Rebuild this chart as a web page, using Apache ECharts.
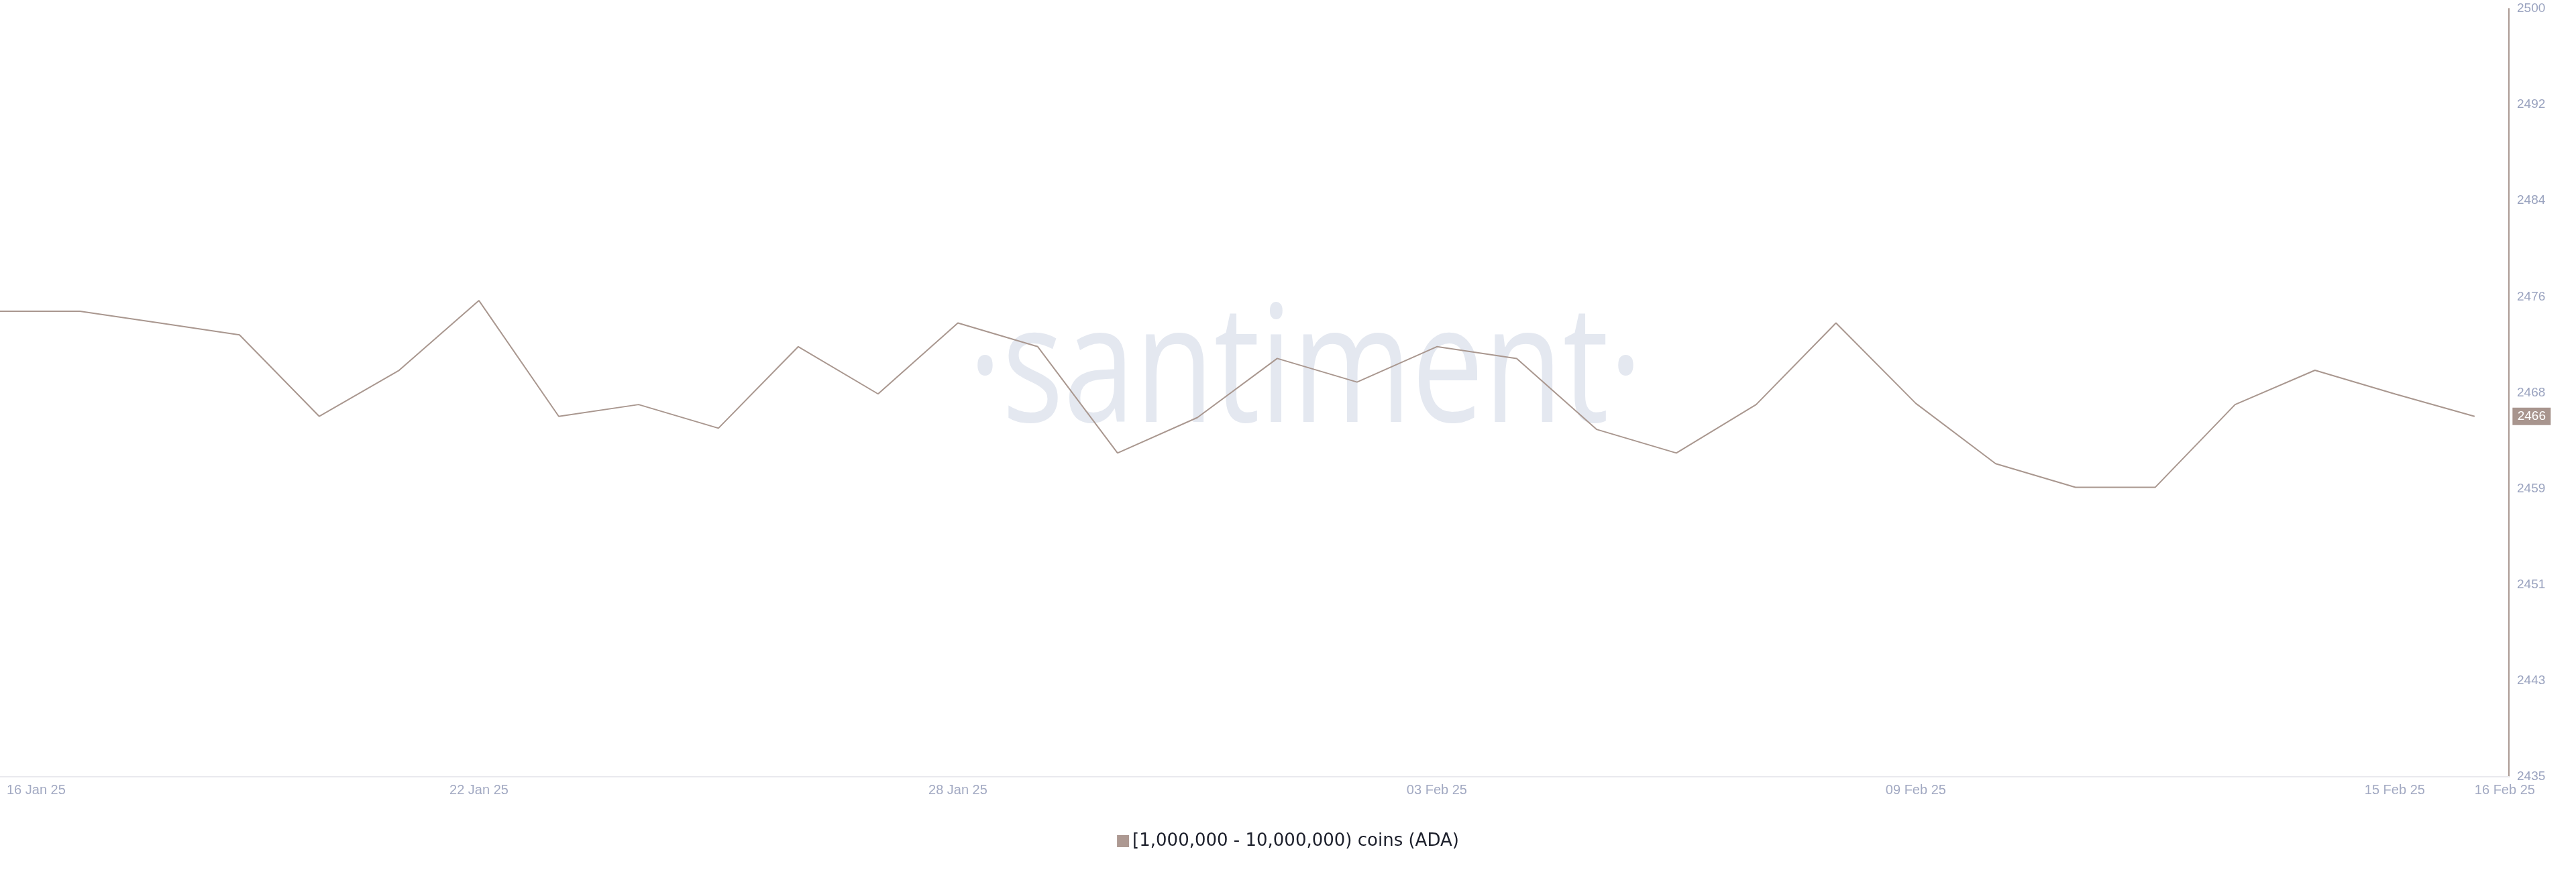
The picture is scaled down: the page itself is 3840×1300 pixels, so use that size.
<!DOCTYPE html>
<html>
<head>
<meta charset="utf-8">
<style>
  html, body { margin: 0; padding: 0; background: #ffffff; }
  #chart { width: 3840px; height: 1300px; }
</style>
<script src="https://cdn.jsdelivr.net/npm/echarts@6/dist/echarts.min.js"></script>
</head>
<body>
<div id="chart"></div>
<script>
// ---- data ----
const dates = [
  '16 Jan 25','17 Jan 25','18 Jan 25','19 Jan 25','20 Jan 25','21 Jan 25','22 Jan 25','23 Jan 25',
  '24 Jan 25','25 Jan 25','26 Jan 25','27 Jan 25','28 Jan 25','29 Jan 25','30 Jan 25','31 Jan 25',
  '01 Feb 25','02 Feb 25','03 Feb 25','04 Feb 25','05 Feb 25','06 Feb 25','07 Feb 25','08 Feb 25',
  '09 Feb 25','10 Feb 25','11 Feb 25','12 Feb 25','13 Feb 25','14 Feb 25','15 Feb 25','16 Feb 25'
];
const holders = [
  2474.4, 2474.4, 2473.4, 2472.4, 2465.5, 2469.4, 2475.3, 2465.5,
  2466.5, 2464.5, 2471.4, 2467.4, 2473.4, 2471.4, 2462.4, 2465.4,
  2470.4, 2468.4, 2471.4, 2470.4, 2464.4, 2462.4, 2466.5, 2473.4,
  2466.6, 2461.5, 2459.5, 2459.5, 2466.5, 2469.4, 2467.4, 2465.5
];
const xTickIndex = [0, 6, 12, 18, 24, 30, 31];
const yTicks = [2435, 2443.125, 2451.25, 2459.375, 2467.5, 2475.625, 2483.75, 2491.875, 2500];
const seriesName = '[1,000,000 - 10,000,000) coins (ADA)';

const lineColor = '#a9978f';
const points = holders.map((v, i) => [i, v]);
const lastIdx = holders.length - 1;

const chart = echarts.init(document.getElementById('chart'), null, { renderer: 'canvas' });
chart.setOption({
  animation: false,
  backgroundColor: '#ffffff',
  grid: { left: 0, right: 100, top: 13, bottom: 142, containLabel: false },
  graphic: [{
    type: 'text',
    x: 1946,
    y: 560,
    scaleX: 0.79,
    z: -10,
    silent: true,
    style: {
      text: '·santiment·',
      fontFamily: '"Open Sans"',
      fontSize: 243,
      fill: '#e4e8f0',
      align: 'center',
      verticalAlign: 'middle'
    }
  }],
  legend: {
    show: true,
    left: 'center',
    top: 1236,
    icon: 'rect',
    itemWidth: 18,
    itemHeight: 18,
    itemGap: 8,
    textStyle: { fontFamily: '"DejaVu Sans"', fontSize: 26, color: '#1c1f2b' },
    data: [{ name: seriesName, itemStyle: { color: '#ad9992' } }]
  },
  xAxis: {
    type: 'value',
    min: 0,
    max: 31.43,
    axisLine: { show: true, onZero: false, lineStyle: { color: '#e9e9ee', width: 2 } },
    axisTick: { show: false },
    splitLine: { show: false },
    axisLabel: {
      customValues: xTickIndex,
      color: '#a2a9c2',
      fontFamily: '"Liberation Sans"',
      fontSize: 20,
      margin: 10,
      alignMinLabel: 'left',
      alignMaxLabel: 'left',
      formatter: function (v) {
        const s = dates[Math.round(v)] || '';
        return Math.round(v) === 0 ? '{first|' + s + '}' : s;
      },
      rich: { first: { padding: [0, 0, 0, 10], color: '#a2a9c2', fontFamily: '"Liberation Sans"', fontSize: 20 } }
    }
  },
  yAxis: {
    type: 'value',
    position: 'right',
    min: 2435,
    max: 2500,
    axisLine: { show: true, onZero: false, lineStyle: { color: '#ab9a93', width: 2 } },
    axisTick: { show: false },
    splitLine: { show: false },
    axisLabel: {
      customValues: yTicks,
      color: '#9aa3bf',
      fontFamily: '"Liberation Sans"',
      fontSize: 19,
      margin: 12,
      formatter: function (v) { return String(Math.round(v)); }
    }
  },
  series: [{
    name: seriesName,
    type: 'line',
    data: points,
    showSymbol: false,
    symbol: 'none',
    clip: false,
    color: '#ad9992',
    lineStyle: { color: lineColor, width: 2 },
    markPoint: {
      silent: true,
      symbol: 'rect',
      symbolSize: [57, 26],
      symbolOffset: [85, 0],
      itemStyle: { color: '#a8958e' },
      label: {
        show: true,
        position: 'inside',
        color: '#ffffff',
        fontFamily: '"Liberation Sans"',
        fontSize: 19,
        formatter: function (p) { return String(Math.round(p.value)); }
      },
      data: [{ coord: [lastIdx, holders[lastIdx]], value: holders[lastIdx] }]
    }
  }]
});
</script>
</body>
</html>
